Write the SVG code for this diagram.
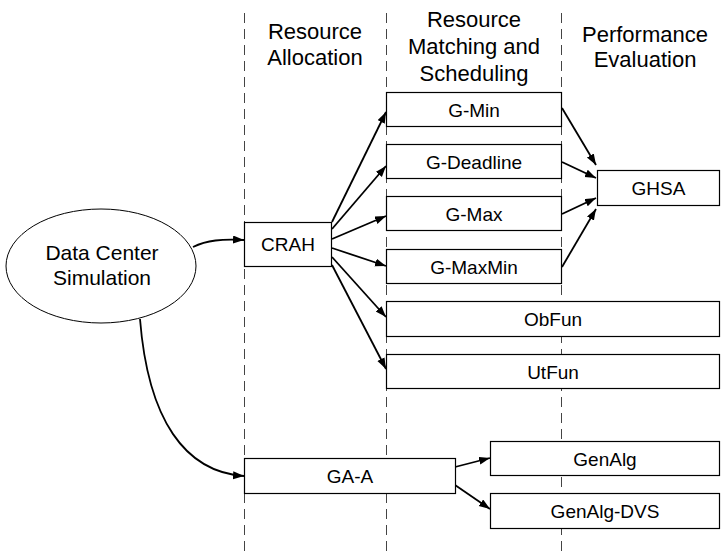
<svg xmlns="http://www.w3.org/2000/svg" width="728" height="552" viewBox="0 0 728 552">
  <defs>
    <marker id="arrow" markerUnits="userSpaceOnUse" markerWidth="12" markerHeight="9" refX="11" refY="4" orient="auto">
      <path d="M0,0 L11,4 L0,8 Z" fill="#000"/>
    </marker>
  </defs>
  <style>
    .lane { stroke: #444; stroke-width: 1; stroke-dasharray: 10 6; fill: none; }
    .box { fill: #fff; stroke: #000; stroke-width: 1.2; }
    .head { font-family: "Liberation Sans", Arial, sans-serif; font-size: 22px; fill: #000; text-anchor: middle; }
    .lbl { font-family: "Liberation Sans", Arial, sans-serif; font-size: 19px; fill: #000; text-anchor: middle; }
    .edge { fill: none; stroke: #000; stroke-width: 1.8; marker-end: url(#arrow); }
  </style>
  <rect width="728" height="552" fill="#fff"/>

  <!-- swimlane separators -->
  <g id="lanes">
    <line class="lane" x1="244.5" y1="13" x2="244.5" y2="552"/>
    <line class="lane" x1="386.5" y1="13" x2="386.5" y2="552"/>
    <line class="lane" x1="561.5" y1="13" x2="561.5" y2="552"/>
  </g>

  <!-- column headings -->
  <g id="headings">
    <text class="head" x="315" y="39">Resource</text>
    <text class="head" x="315" y="65">Allocation</text>
    <text class="head" x="474" y="27">Resource</text>
    <text class="head" x="474" y="54">Matching and</text>
    <text class="head" x="474" y="81">Scheduling</text>
    <text class="head" x="645" y="42">Performance</text>
    <text class="head" x="645" y="67">Evaluation</text>
  </g>

  <!-- connectors -->
  <g id="connectors">
    <path class="edge" d="M193,247 C207,240 222,239 244,240"/>
    <path class="edge" d="M140,319 C148,420 185,472 244,476"/>
    <path class="edge" d="M332,222 L386,112"/>
    <path class="edge" d="M332,229 L386,166"/>
    <path class="edge" d="M332,239 L386,216"/>
    <path class="edge" d="M332,248 L386,266"/>
    <path class="edge" d="M332,257 L386,317"/>
    <path class="edge" d="M332,265 L386,369"/>
    <path class="edge" d="M562,108 L596,165"/>
    <path class="edge" d="M562,162 L596,178"/>
    <path class="edge" d="M562,214 L596,198"/>
    <path class="edge" d="M562,267 L596,209"/>
    <path class="edge" d="M455,467 L490,458"/>
    <path class="edge" d="M455,485 L490,509"/>
  </g>

  <!-- nodes -->
  <g id="sim">
    <ellipse cx="101" cy="266" rx="95" ry="57" fill="#fff" stroke="#000" stroke-width="1"/>
    <text class="lbl" style="font-size:21px" x="102" y="260">Data Center</text>
    <text class="lbl" style="font-size:21px" x="102" y="285">Simulation</text>
  </g>
  <g id="crah">
    <rect class="box" x="244.5" y="222.5" width="87" height="44"/>
    <text class="lbl" x="288" y="251">CRAH</text>
  </g>
  <g id="gmin">
    <rect class="box" x="386.5" y="92.5" width="175" height="34"/>
    <text class="lbl" x="474" y="116.5">G-Min</text>
  </g>
  <g id="gdeadline">
    <rect class="box" x="386.5" y="144.5" width="175" height="34"/>
    <text class="lbl" x="474" y="168.5">G-Deadline</text>
  </g>
  <g id="gmax">
    <rect class="box" x="386.5" y="196.5" width="175" height="34"/>
    <text class="lbl" x="474" y="220.5">G-Max</text>
  </g>
  <g id="gmaxmin">
    <rect class="box" x="386.5" y="249.5" width="175" height="34"/>
    <text class="lbl" x="474" y="273.5">G-MaxMin</text>
  </g>
  <g id="obfun">
    <rect class="box" x="386.5" y="301.5" width="333" height="35"/>
    <text class="lbl" x="553" y="326">ObFun</text>
  </g>
  <g id="utfun">
    <rect class="box" x="386.5" y="354.5" width="333" height="34"/>
    <text class="lbl" x="553" y="378.5">UtFun</text>
  </g>
  <g id="ghsa">
    <rect class="box" x="597.5" y="170.5" width="122" height="35"/>
    <text class="lbl" x="658.5" y="195">GHSA</text>
  </g>
  <g id="gaa">
    <rect class="box" x="244.5" y="458.5" width="211" height="35"/>
    <text class="lbl" x="350" y="483">GA-A</text>
  </g>
  <g id="genalg">
    <rect class="box" x="490.5" y="441.5" width="229" height="34"/>
    <text class="lbl" x="605" y="465.5">GenAlg</text>
  </g>
  <g id="genalgdvs">
    <rect class="box" x="490.5" y="493.5" width="229" height="35"/>
    <text class="lbl" x="605" y="518">GenAlg-DVS</text>
  </g>
</svg>
